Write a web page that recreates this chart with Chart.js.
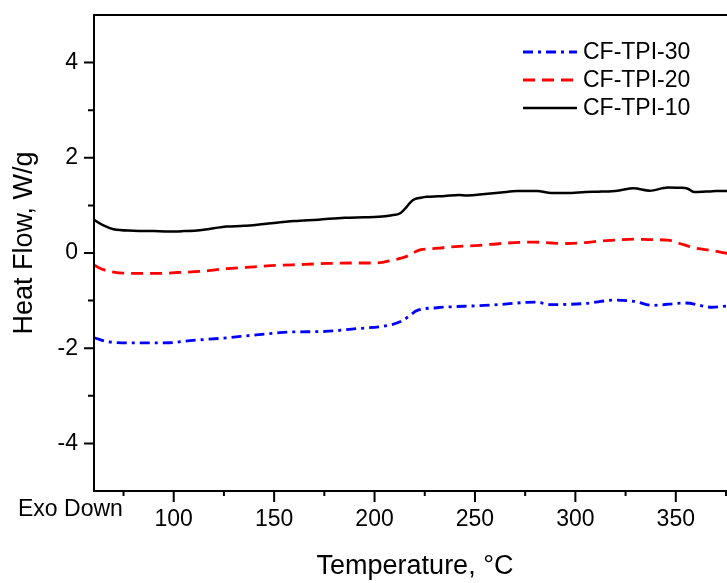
<!DOCTYPE html>
<html>
<head>
<meta charset="utf-8">
<title>DSC Heat Flow</title>
<script src="https://cdn.jsdelivr.net/npm/chart.js@4/dist/chart.umd.min.js"></script>
<style>
    body { margin: 0; background: #fff; }
    canvas { display: block; }
</style>
</head>
<body>
<canvas id="chart" width="727" height="583"></canvas>
<script>
// values (temperature in °C, heat flow in W/g)
const temps10 = [60.5, 65, 70, 80, 90, 98, 105, 113, 120, 126, 135, 145, 160, 172, 185, 195, 202, 208, 213, 216, 218, 220, 223, 226, 235, 242, 246, 255, 263, 271, 281, 288, 296, 305, 313, 321, 329, 337, 346, 352, 356, 359, 365, 370, 376];
const flow10 = [0.69, 0.58, 0.50, 0.47, 0.46, 0.45, 0.46, 0.48, 0.52, 0.555, 0.57, 0.61, 0.67, 0.70, 0.74, 0.75, 0.76, 0.79, 0.84, 0.97, 1.07, 1.13, 1.16, 1.18, 1.20, 1.22, 1.21, 1.24, 1.27, 1.30, 1.30, 1.26, 1.26, 1.28, 1.29, 1.31, 1.36, 1.31, 1.375, 1.37, 1.35, 1.28, 1.29, 1.30, 1.30];

const temps20 = [60.5, 65, 70, 82, 92, 102, 115, 126, 140, 151, 165, 176, 190, 201, 209, 216, 220, 223, 229, 234, 242, 252, 263, 279, 288, 296, 305, 312, 320, 329, 338, 346, 352, 359, 368, 376];
const flow20 = [-0.26, -0.35, -0.40, -0.43, -0.43, -0.41, -0.38, -0.33, -0.29, -0.26, -0.24, -0.22, -0.21, -0.21, -0.15, -0.07, 0.02, 0.07, 0.09, 0.11, 0.14, 0.16, 0.20, 0.23, 0.21, 0.20, 0.22, 0.25, 0.27, 0.29, 0.28, 0.27, 0.20, 0.11, 0.05, -0.01];

const temps30 = [60.5, 68, 83, 98, 108, 124, 141, 158, 174, 191, 208, 214, 218, 221, 231, 238, 250, 263, 280, 288, 305, 320, 330, 338, 355, 368, 376];
const flow30 = [-1.78, -1.87, -1.89, -1.885, -1.84, -1.79, -1.72, -1.66, -1.65, -1.59, -1.51, -1.42, -1.30, -1.21, -1.15, -1.13, -1.11, -1.08, -1.03, -1.085, -1.06, -0.99, -1.02, -1.10, -1.05, -1.14, -1.11];

const xTicks = [100, 150, 200, 250, 300, 350];
const xMinorTicks = [75, 125, 175, 225, 275, 325, 375];
const yTicks = [-4, -2, 0, 2, 4];
const yMinorTicks = [-3, -1, 1, 3];

const fontFamily = '"Liberation Sans", Arial, Helvetica, sans-serif';

function toPoints(xs, ys) {
    return xs.map((x, i) => ({ x: x, y: ys[i] }));
}

const datasets = [
    {
        label: 'CF-TPI-10',
        data: toPoints(temps10, flow10),
        borderColor: '#000000',
        borderWidth: 2.5,
        borderDash: []
    },
    {
        label: 'CF-TPI-20',
        data: toPoints(temps20, flow20),
        borderColor: '#ff0000',
        borderWidth: 2.8,
        borderDash: [12, 7]
    },
    {
        label: 'CF-TPI-30',
        data: toPoints(temps30, flow30),
        borderColor: '#0000ff',
        borderWidth: 2.8,
        borderDash: [10, 5, 3, 5]
    }
].map(ds => Object.assign(ds, {
    pointRadius: 0,
    fill: false,
    tension: 0.3,
    cubicInterpolationMode: 'monotone'
}));

// axes frame, tick marks, titles and legend
const decorations = {
    id: 'decorations',
    afterDraw(chart) {
        const ctx = chart.ctx;
        const area = chart.chartArea;
        const xs = chart.scales.x;
        const ys = chart.scales.y;

        ctx.save();
        ctx.strokeStyle = '#000';
        ctx.lineWidth = 2;
        ctx.setLineDash([]);

        ctx.beginPath();
        ctx.moveTo(area.left, area.top);
        ctx.lineTo(area.left, area.bottom);
        ctx.moveTo(area.left - 1, area.bottom);
        ctx.lineTo(area.right, area.bottom);
        ctx.moveTo(area.left - 1, area.top);
        ctx.lineTo(area.right, area.top);
        ctx.stroke();

        ctx.beginPath();
        yTicks.forEach(v => {
            const py = ys.getPixelForValue(v);
            ctx.moveTo(area.left - 10, py);
            ctx.lineTo(area.left, py);
        });
        yMinorTicks.forEach(v => {
            const py = ys.getPixelForValue(v);
            ctx.moveTo(area.left - 6, py);
            ctx.lineTo(area.left, py);
        });
        xTicks.forEach(v => {
            const px = xs.getPixelForValue(v);
            ctx.moveTo(px, area.bottom);
            ctx.lineTo(px, area.bottom + 11);
        });
        xMinorTicks.forEach(v => {
            const px = xs.getPixelForValue(v);
            ctx.moveTo(px, area.bottom);
            ctx.lineTo(px, area.bottom + 5);
        });
        ctx.stroke();

        ctx.fillStyle = '#000';
        ctx.font = '27px ' + fontFamily;
        ctx.textAlign = 'center';
        ctx.textBaseline = 'middle';
        ctx.fillText('Temperature, °C', 415, 567);

        ctx.save();
        ctx.translate(25, 243);
        ctx.rotate(-Math.PI / 2);
        ctx.fillText('Heat Flow, W/g', 0, 0);
        ctx.restore();

        ctx.font = '23px ' + fontFamily;
        ctx.textAlign = 'left';
        ctx.fillText('Exo Down', 18, 510);

        // legend, top to bottom: 30, 20, 10
        const order = [2, 1, 0];
        order.forEach((idx, row) => {
            const ds = chart.data.datasets[idx];
            const y = 52 + row * 28;
            ctx.strokeStyle = ds.borderColor;
            ctx.lineWidth = ds.borderWidth;
            ctx.setLineDash(ds.borderDash);
            ctx.beginPath();
            ctx.moveTo(523, y);
            ctx.lineTo(577, y);
            ctx.stroke();
            ctx.setLineDash([]);
            ctx.fillText(ds.label, 583, y + 1);
        });

        ctx.restore();
    }
};

const chart = new Chart(document.getElementById('chart').getContext('2d'), {
    type: 'line',
    data: { datasets: datasets },
    options: {
        responsive: false,
        animation: false,
        layout: { padding: { top: 15, right: 0, left: 0, bottom: 0 } },
        plugins: {
            legend: { display: false },
            tooltip: { enabled: false }
        },
        scales: {
            x: {
                type: 'linear',
                min: 60.3,
                max: 375.5,
                grid: { display: false, drawTicks: false },
                border: { display: false },
                ticks: {
                    color: '#000',
                    font: { size: 23, family: fontFamily },
                    padding: 15,
                    maxRotation: 0
                },
                afterBuildTicks: scale => {
                    scale.ticks = xTicks.map(v => ({ value: v }));
                },
                afterFit: scale => {
                    scale.height = 92;
                    scale.paddingLeft = 0;
                    scale.paddingRight = 0;
                }
            },
            y: {
                type: 'linear',
                min: -5,
                max: 5,
                grid: { display: false, drawTicks: false },
                border: { display: false },
                ticks: {
                    color: '#000',
                    font: { size: 23, family: fontFamily },
                    padding: 16
                },
                afterBuildTicks: scale => {
                    scale.ticks = yTicks.map(v => ({ value: v }));
                },
                afterFit: scale => {
                    scale.width = 94;
                    scale.paddingTop = 0;
                    scale.paddingBottom = 0;
                }
            }
        }
    },
    plugins: [decorations]
});
</script>
</body>
</html>
